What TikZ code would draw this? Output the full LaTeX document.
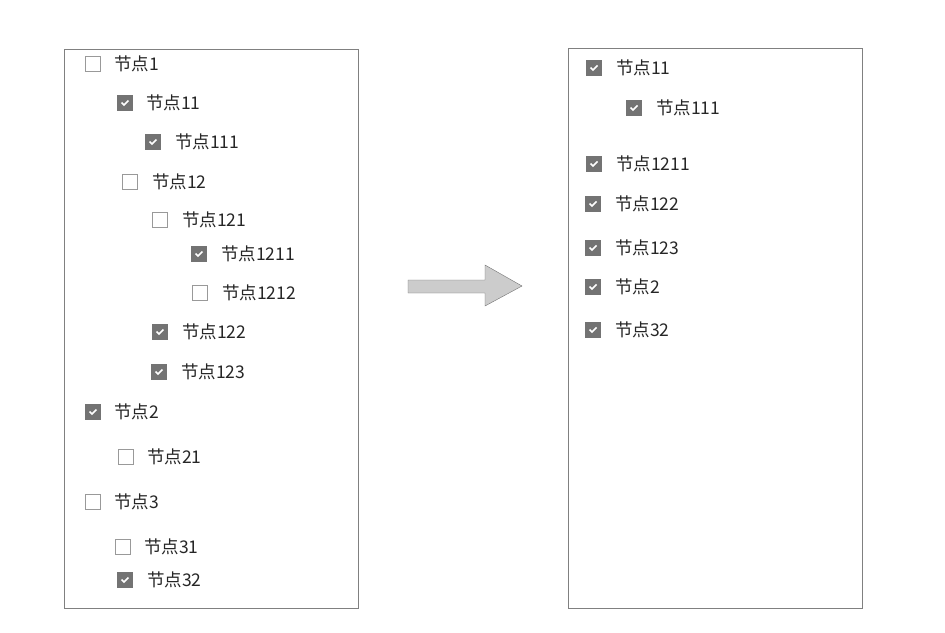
\documentclass[tikz,border=0pt]{standalone}
\usepackage{fontspec}
\setmainfont{Noto Sans CJK SC}
\begin{document}
\begin{tikzpicture}[x=1pt,y=-1pt,
    box/.style={draw=black!40, line width=1pt, fill=white, minimum size=14.5pt, inner sep=0pt},
    ticked/.style={box, draw=black!55, fill=black!55,
        path picture={\draw[white, line width=1.5pt]
            ([xshift=-3.5pt,yshift=0.5pt]path picture bounding box.center)
            -- ++(2.5pt,-2.5pt) -- ++(4.5pt,4.5pt);}},
    item/.style={anchor=west, inner sep=0pt, text=black!85, font=\fontsize{17.5}{17.5}\selectfont}]
    \useasboundingbox (0,0) rectangle (945,632);
    % panels
    \draw [black!50] (64,49) rectangle (358,608);
    \draw [black!50] (568,48) rectangle (862,608);
    % left tree
    \foreach \n/\bx/\by/\tx/\st in {1/93/64/114/box, 11/125/103/146/ticked,
        111/153/142/175/ticked, 12/130/182/152/box, 121/160/220/182/box,
        1211/199/254/221/ticked, 1212/200/293/222/box, 122/160/332/182/ticked,
        123/159/372/181/ticked, 2/93/412/114/ticked, 21/126/457/147/box,
        3/93/502/114/box, 31/123/547/144/box, 32/125/580/147/ticked}
    {
        \node [\st] (Lb\n) at (\bx,\by) {};
        \node [item] (Lt\n) at (\tx,\by) {节点\n};
    }
    % arrow
    \draw [fill=black!20, draw=black!55] (408,280) -- (485,280) -- (485,265)
        -- (522,286) -- (485,306) -- (485,293) -- (408,293) -- cycle;
    % right list
    \foreach \n/\bx/\by/\tx in {11/594/68/616, 111/634/108/656, 1211/594/164/616,
        122/593/204/615, 123/593/248/615, 2/593/287/615, 32/593/330/615}
    {
        \node [ticked] (Rb\n) at (\bx,\by) {};
        \node [item] (Rt\n) at (\tx,\by) {节点\n};
    }
\end{tikzpicture}
\end{document}
